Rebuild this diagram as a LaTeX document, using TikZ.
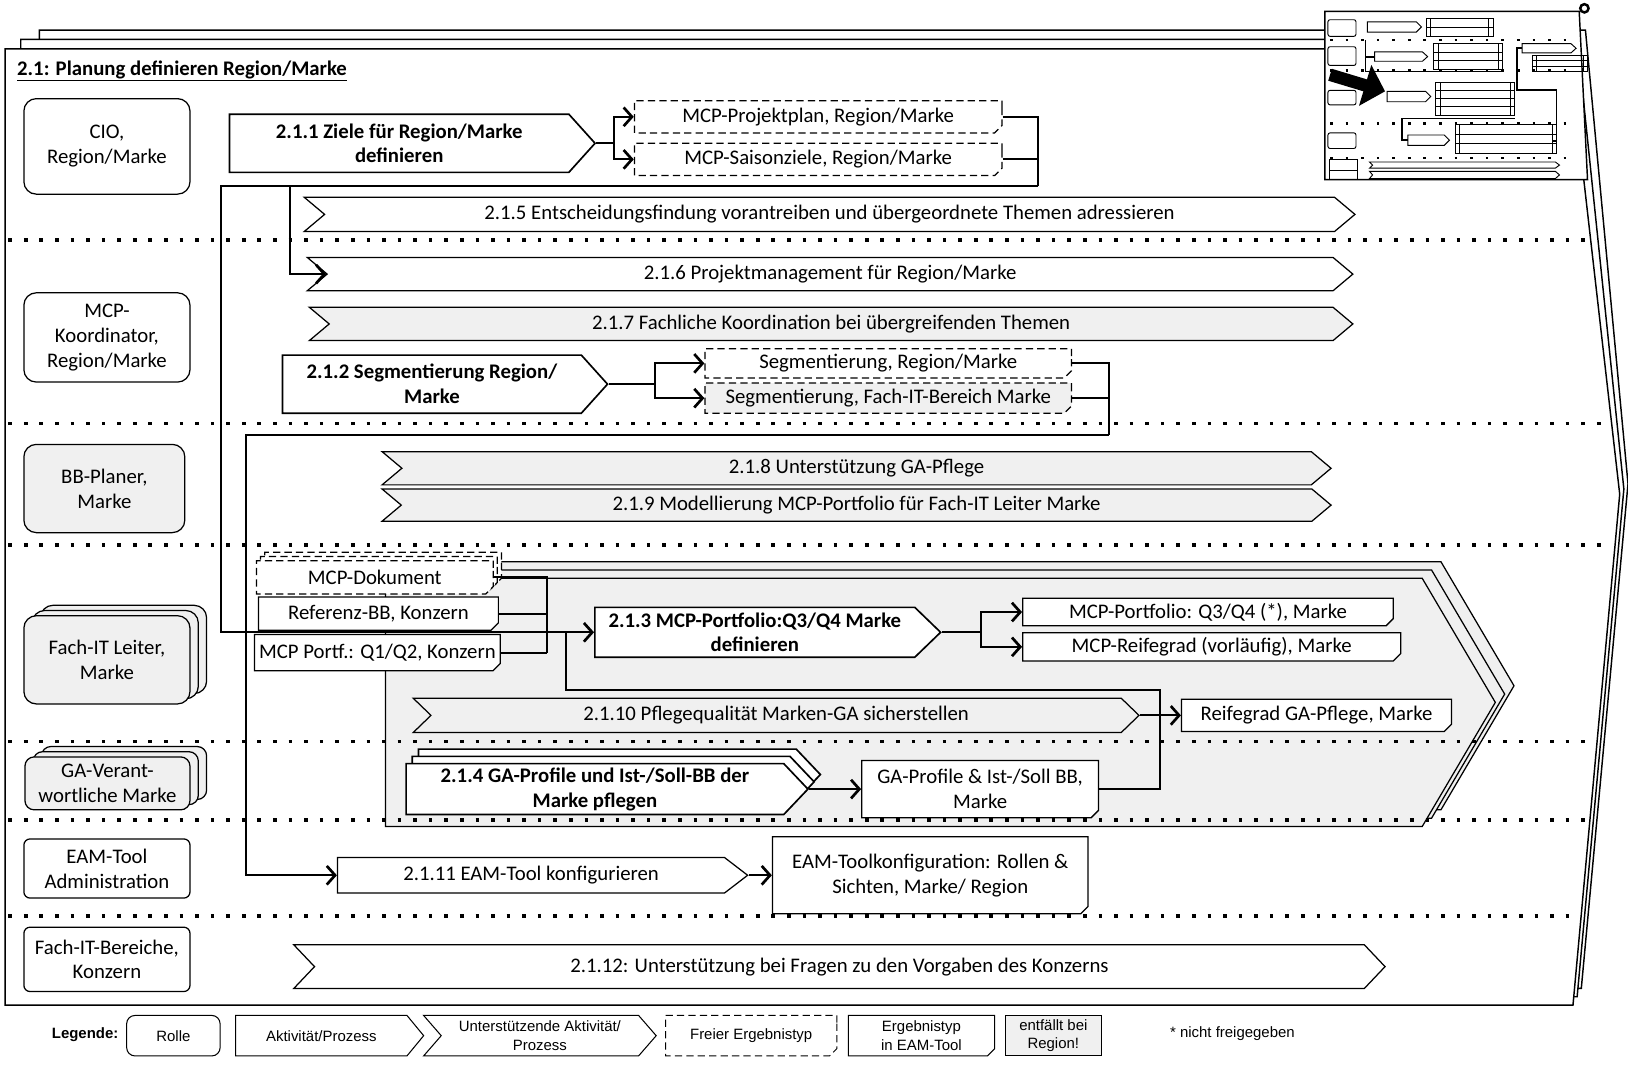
\documentclass[tikz,border=0pt]{standalone}
\usepackage{fontspec}
\setmainfont{Carlito}
\newfontfamily\legfont{Liberation Sans}
\usetikzlibrary{positioning}
\usetikzlibrary{arrows.meta}
\usetikzlibrary{shapes.symbols}
\usetikzlibrary{shapes.misc}
\usetikzlibrary{shadows}
\definecolor{eGray}{HTML}{F0F0F0}
\newcommand{\mainsize}{\fontsize{20}{24}\selectfont}
\newcommand{\legsize}{\fontsize{14.4}{17.5}\selectfont}
\tikzset{
  boxsize/.style 2 args={minimum width=#1pt, minimum height=#2pt},
  stack/.style n args={3}{
    copy shadow={shadow xshift=2*#1, shadow yshift=2*#2, draw, fill=#3},
    copy shadow={shadow xshift=#1, shadow yshift=#2, draw, fill=#3}},
  role/.style={draw, line width=1.2pt, rounded corners=12pt, fill=white, align=center, inner sep=1pt},
  activity/.style={signal, signal to=east, signal pointer angle=96, draw, line width=1.6pt, fill=white, align=center, inner sep=1pt, font=\mainsize\bfseries},
  support/.style={signal, signal from=west, signal to=east, signal pointer angle=80, draw, line width=1.2pt, fill=white, align=center, inner sep=1pt},
  result/.style={chamfered rectangle, chamfered rectangle corners=south east, chamfered rectangle xsep=3.5pt, chamfered rectangle ysep=3.5pt, draw, line width=1.2pt, fill=white, align=center, inner sep=1pt},
  freeresult/.style={result, dash pattern=on 7pt off 4pt},
  dropped/.style={fill=eGray},
  link/.style={line width=2pt},
  flow/.style={link, -{Straight Barb[length=8pt, width=18pt, line width=2.6pt]}},
  lane/.style={line width=3.5pt, dash pattern=on 3.5pt off 11.5pt},
}

\begin{document}
\begin{tikzpicture}[x=1pt, y=-1pt, font=\mainsize]
  \useasboundingbox (0,0) rectangle (1568,1027);

  % stacked process frames
  \foreach \l/\t/\r/\p/\q/\b/\d in {38/29/1527/1568/466/1523/952, 20/38/1519/1564/471/1519/960, 5/47/1511/1560/476/1515/968}
    \filldraw[fill=white, line width=1.4pt] (\l,\t) -- (\r,\t) -- (\p,\q) -- (\b,\d) -- (\l,\d) -- cycle;

  % overview map in the corner
  \begin{scope}[line width=0.9pt]
    \filldraw[fill=white, line width=1.4pt] (1276,11) -- (1521,11) -- (1529,173) -- (1276,173) -- cycle;
    \draw[line width=2.4pt] (1526,8) circle[radius=4];
    \foreach \ya/\yb in {19/35, 45/63, 87/101, 128/143}
      \draw[rounded corners=2pt] (1279,\ya) rectangle (1306,\yb);
    \draw (1280,154) rectangle (1307,164) (1280,164) rectangle (1307,173);
    \foreach \y in {38.5, 68, 119, 152}
      \draw[line width=2.5pt, dash pattern=on 2.5pt off 12.5pt] (1281,\y) -- (1520,\y);
    \foreach \xa/\xb/\ya/\yb in {1317/1369/21/31, 1324/1375/50/59, 1336/1378/88/98, 1356/1396/130/140, 1466/1518/42/51}
      \draw (\xa,\ya) -- (\xb-5,\ya) -- (\xb,{(\ya+\yb)/2}) -- (\xb-5,\yb) -- (\xa,\yb) -- cycle;
    \foreach \xa/\xb/\ya/\h/\n in {1378/1434/18/8.5/2, 1385/1443/42/8.3/3, 1387/1455/79/8/4, 1406/1495/120/9.3/3, 1480/1525/53/5.3/3}
      \foreach \k in {1,...,\n} {
        \draw (\xa-4,{\ya+(\k-1)*\h}) rectangle (\xb+4,{\ya+\k*\h});
        \draw (\xa,{\ya+(\k-1)*\h}) -- (\xa,{\ya+\k*\h}) (\xb,{\ya+(\k-1)*\h}) -- (\xb,{\ya+\k*\h});
      }
    \foreach \ya/\yb in {156/162, 165/172}
      \draw (1319,\ya) -- (1498,\ya) -- (1502,{(\ya+\yb)/2}) -- (1498,\yb) -- (1319,\yb) -- (1322,{(\ya+\yb)/2}) -- cycle;
    \draw[line width=1.6pt] (1315,38.5) -- (1315,69) -- (1447,69) (1315,55) -- (1324,55);
    \draw[line width=1.6pt] (1466,46.5) -- (1461,46.5) -- (1461,86.7) -- (1499,86.7) -- (1499,136) -- (1495,136);
    \draw[line width=1.6pt] (1459,114) -- (1350,114) -- (1350,135) -- (1356,135);
    \draw[line width=12pt, -{Triangle[length=20pt, width=40pt]}] (1281,72) -- (1334,88);
  \end{scope}

  \node[anchor=west, font=\mainsize\bfseries] (title) at (13,68) {\underline{2.1: Planung definieren Region/Marke}};

  % part that is dropped for a region
  \node[signal, signal to=east, signal pointer angle=119, draw, line width=1.2pt, fill=eGray, stack={9pt}{8pt}{eGray}, boxsize={1069}{239}] (dropzone) at (870.5,676.5) {};

  % lane separators
  \foreach \y/\e in {231/1530, 408/1550, 525/1552, 714/1536, 790/1529, 882/1521}
    \draw[lane] (8,\y) -- (\e,\y);

  % roles
  \node[role, boxsize={160}{92}] (cio) at (103,141) {CIO,\\Region/Marke};
  \node[role, boxsize={160}{86}] (coord) at (103,325) {MCP-\\Koordinator,\\Region/Marke};
  \node[role, dropped, boxsize={155}{85}] (bbplan) at (100.5,470.5) {BB-Planer,\\Marke};
  \node[role, dropped, stack={8pt}{5pt}{eGray}, boxsize={160}{85}] (fachit) at (103,635.5) {Fach-IT Leiter,\\Marke};
  \node[role, dropped, rounded corners=9pt, stack={8pt}{5pt}{eGray}, boxsize={159}{51}] (gaverant) at (103.5,754.5) {GA-Verant-\\wortliche Marke};
  \node[role, rounded corners=6pt, boxsize={160}{57}] (eamadmin) at (103,836.5) {EAM-Tool\\Administration};
  \node[role, rounded corners=6pt, boxsize={160}{62}] (fachber) at (103,924) {Fach-IT-Bereiche,\\Konzern};

  % CIO lane
  \node[activity, boxsize={352}{56}] (a211) at (384.5,138) {2.1.1 Ziele für Region/Marke\\definieren};
  \node[freeresult, boxsize={354}{31}] (plan) at (788,112.5) {MCP-Projektplan, Region/Marke};
  \node[freeresult, boxsize={354}{31}] (saison) at (788,153.5) {MCP-Saisonziele, Region/Marke};
  \node[support, boxsize={1012}{33}] (s215) at (799,206.5) {2.1.5 Entscheidungsfindung vorantreiben und übergeordnete Themen adressieren};

  % MCP coordinator lane
  \node[support, boxsize={1007}{32}] (s216) at (799.5,264) {2.1.6 Projektmanagement für Region/Marke};
  \node[support, dropped, boxsize={1005}{32}] (s217) at (800.5,312) {2.1.7 Fachliche Koordination bei übergreifenden Themen};
  \node[activity, boxsize={313}{56}] (a212) at (416,370) {2.1.2 Segmentierung Region/\\Marke};
  \node[freeresult, boxsize={353}{28}] (segreg) at (855.5,350) {Segmentierung, Region/Marke};
  \node[freeresult, dropped, boxsize={353}{29}] (segfach) at (855.5,383.5) {Segmentierung, Fach-IT-Bereich Marke};

  % BB planner lane
  \node[support, dropped, boxsize={914}{32}] (s218) at (825,451) {2.1.8 Unterstützung GA-Pflege};
  \node[support, dropped, boxsize={914}{31}] (s219) at (825,486.5) {2.1.9 Modellierung MCP-Portfolio für Fach-IT Leiter Marke};

  % Fach-IT lane
  \node[freeresult, stack={4pt}{4pt}{white}, boxsize={228}{32}] (mcpdok) at (361,556) {MCP-Dokument};
  \node[result, boxsize={231}{32}] (refbb) at (364.5,591) {Referenz-BB, Konzern};
  \node[result, boxsize={233}{35}] (portq12) at (363.5,628.5) {MCP Portf.: Q1/Q2, Konzern};
  \node[activity, signal pointer angle=88, boxsize={333}{48}] (a213) at (727,609) {2.1.3 MCP-Portfolio:Q3/Q4 Marke\\definieren};
  \node[result, boxsize={357}{25}] (portq34) at (1163.5,589.5) {MCP-Portfolio: Q3/Q4 (*), Marke};
  \node[result, boxsize={364}{26}] (reife) at (1167,623) {MCP-Reifegrad (vorläufig), Marke};
  \node[support, dropped, signal pointer angle=88, boxsize={699}{33}] (s2110) at (747.5,689) {2.1.10 Pflegequalität Marken-GA sicherstellen};
  \node[result, boxsize={260}{31}] (reifega) at (1268,689) {Reifegrad GA-Pflege, Marke};

  % GA lane
  \node[activity, signal pointer angle=93, stack={6pt}{7pt}{white}, boxsize={387}{49}] (a214) at (573,760) {2.1.4 GA-Profile und Ist-/Soll-BB der\\Marke pflegen};
  \node[result, boxsize={228}{55}] (gaprof) at (944,760) {GA-Profile \& Ist-/Soll BB,\\Marke};

  % EAM tool lane
  \node[activity, font=\mainsize, line width=1.2pt, signal pointer angle=75, boxsize={395}{34}] (a2111) at (511.5,843) {2.1.11 EAM-Tool konfigurieren};
  \node[result, boxsize={304}{74}] (eamconf) at (896,843) {EAM-Toolkonfiguration: Rollen \&\\Sichten, Marke/ Region};

  % Konzern lane
  \node[support, signal pointer angle=93, boxsize={1051}{42}] (s2112) at (808.5,931) {2.1.12: Unterstützung bei Fragen zu den Vorgaben des Konzerns};

  % 2.1.1 results
  \draw[link] (a211.east) -- ++(17,0) coordinate (fk211);
  \draw[flow] (fk211) |- (plan.west);
  \draw[flow] (fk211) |- (saison.west);
  \coordinate (j211) at (1000,179);
  \coordinate (jl1) at (213,179);
  \coordinate (b216) at (279,179);
  \draw[link] (plan.east) -| (j211);
  \draw[link] (saison.east) -- (saison.east -| j211);
  \draw[flow] (j211) -- (jl1) |- (a213.west);
  \draw[flow] (b216) |- (s216.west);

  % 2.1.2 results
  \draw[link] (a212.east) -- ++(45,0) coordinate (fk212);
  \draw[flow] (fk212) |- (segreg.west);
  \draw[flow] (fk212) |- (segfach.west);
  \coordinate (j212) at (1068,419);
  \coordinate (jl2) at (237,419);
  \draw[link] (segreg.east) -| (j212);
  \draw[link] (segfach.east) -- (segfach.east -| j212);
  \draw[flow] (j212) -- (jl2) |- (a2111.west);

  % inputs of 2.1.3
  \coordinate (jin) at (527,628.5);
  \draw[link] (mcpdok.east) -| (jin);
  \draw[link] (refbb.east) -- (refbb.east -| jin);
  \draw[link] (portq12.east) -- (jin);
  \coordinate (jga) at (1117,665);
  \coordinate (j213) at (545,609);
  \draw[link] (gaprof.east) -| (jga) -| (j213);

  % 2.1.3 results
  \draw[link] (a213.east) -- ++(38,0) coordinate (fk213);
  \draw[flow] (fk213) |- (portq34.west);
  \draw[flow] (fk213) |- (reife.west);
  \draw[flow] (s2110.east) -- (reifega.west);
  \draw[flow] (a214.east) -- (gaprof.west);
  \draw[flow] (a2111.east) -- (eamconf.west);

  % legend
  \node[font=\legfont\legsize\bfseries] (legtitle) at (82,997) {Legende:};
  \node[role, rounded corners=8pt, line width=1pt, font=\legfont\legsize, boxsize={90}{39}] (lgrole) at (167,997.5) {Rolle};
  \node[activity, line width=1pt, signal pointer angle=101, font=\legfont\legsize, boxsize={181}{39}] (lgact) at (309.5,997.5) {Aktivität/Prozess};
  \node[support, line width=1pt, signal pointer angle=98, font=\legfont\legsize, boxsize={224}{39}] (lgsup) at (520,997.5) {Unterstützende Aktivität/\\Prozess};
  \node[freeresult, line width=1pt, font=\legfont\legsize, boxsize={165}{39}] (lgfree) at (723.5,997.5) {Freier Ergebnistyp};
  \node[result, line width=1pt, font=\legfont\legsize, boxsize={141}{39}] (lgres) at (887.5,997.5) {Ergebnistyp\\in EAM-Tool};
  \node[draw, line width=1pt, dropped, align=center, inner sep=1pt, font=\legfont\legsize, boxsize={93}{39}] (lgdrop) at (1014.5,997.5) {entfällt bei\\Region!};
  \node[font=\legfont\legsize] (legnote) at (1187,996) {* nicht freigegeben};
\end{tikzpicture}
\end{document}
